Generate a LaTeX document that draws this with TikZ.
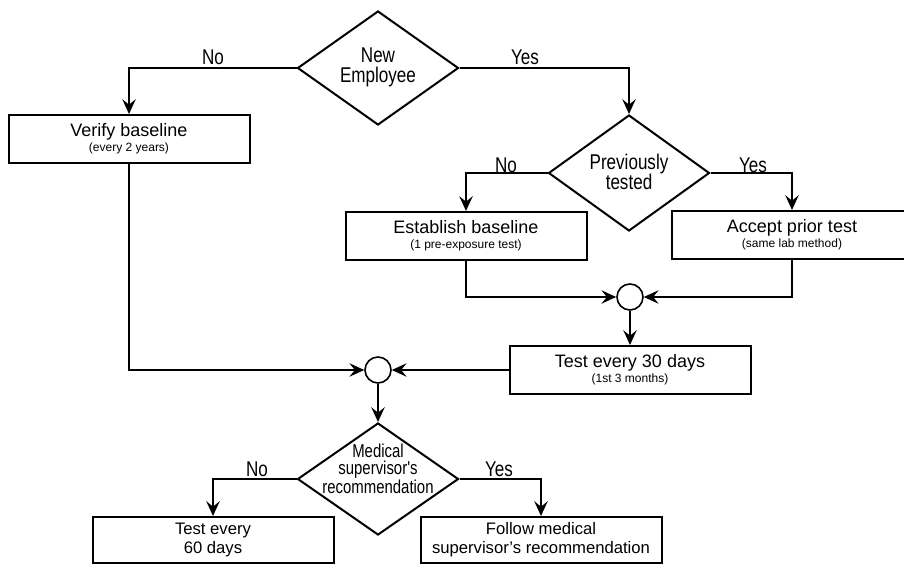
\documentclass[tikz,border=0pt]{standalone}
\usepackage{fontspec}
\setmainfont{Liberation Sans}
\newfontfamily\narrowfont[FakeStretch=0.8]{Liberation Sans}
\usetikzlibrary{shapes.geometric,arrows.meta}
\newcommand\boxsub{\fontsize{9pt}{11.5pt}\selectfont}
\tikzset{
  procbox/.style={draw, line width=1.5pt, minimum width=180.75pt, minimum height=36pt,
    inner sep=0pt, align=center, font=\fontsize{13.5pt}{11.5pt}\selectfont},
  lowbox/.style={procbox, minimum height=34.5pt, font=\fontsize{12.5pt}{14.5pt}\selectfont},
  decision/.style={draw, diamond, line width=1.5pt, minimum width=120.75pt,
    minimum height=85.5pt, inner sep=0pt},
  dtext/.style={align=center, inner sep=0pt, font=\narrowfont\fontsize{16pt}{15pt}\selectfont},
  joinc/.style={draw, circle, line width=1.2pt, minimum size=19.5pt, inner sep=0pt},
  lbl/.style={anchor=base, inner sep=0pt, font=\narrowfont\fontsize{16pt}{16pt}\selectfont},
  conn/.style={line width=1.5pt, -{Stealth[length=11pt,width=10pt,inset=4pt]}},
}
\begin{document}
\begin{tikzpicture}[x=0.75pt,y=-0.75pt]
\useasboundingbox (0,0) rectangle (904,565);
% decisions
\node[decision] (ne) at (378,68) {};
\node[dtext] (netxt) at (378,67) {New\\Employee};
\node[decision, minimum height=87pt] (pt) at (629,173) {};
\node[dtext] (pttxt) at (629,172) {Previously\\tested};
\node[decision, minimum height=84pt] (med) at (378,479) {};
\node[dtext, font=\narrowfont\fontsize{14pt}{12.75pt}\selectfont] (medtxt) at (378,469) {Medical\\supervisor's\\recommendation};
% boxes
\node[procbox] (verify) at (129,139) {Verify baseline\\{\boxsub (every 2 years)}};
\node[procbox] (est) at (466,236) {Establish baseline\\{\boxsub (1 pre-exposure test)}};
\node[procbox] (acc) at (792,235) {Accept prior test\\{\boxsub (same lab method)}};
\node[procbox] (t30) at (630,370) {Test every 30 days\\{\boxsub (1st 3 months)}};
\node[lowbox] (t60) at (213,540) {Test every\\60 days};
\node[lowbox] (fol) at (541,540) {Follow medical\\supervisor's recommendation};
% joins
\node[joinc] (c1) at (630,297) {};
\node[joinc] (c2) at (378,370) {};
% connectors
\draw[conn] (ne.west) -| (verify.north);
\draw[conn] (ne.east) -| (pt.north);
\draw[conn] (pt.west) -| (est.north);
\draw[conn] (pt.east) -| (acc.north);
\draw[conn] (est.south) |- (c1.west);
\draw[conn] (acc.south) |- (c1.east);
\draw[conn] (c1.south) -- (t30.north);
\draw[conn] (verify.south) |- (c2.west);
\draw[conn] (t30.west) -- (c2.east);
\draw[conn] (c2.south) -- (med.north);
\draw[conn] (med.west) -| (t60.north);
\draw[conn] (med.east) -| (fol.north);
% labels
\node[lbl] (l1) at (213,64) {No};
\node[lbl] (l2) at (525,64) {Yes};
\node[lbl] (l3) at (506,172) {No};
\node[lbl] (l4) at (753,172) {Yes};
\node[lbl] (l5) at (257,476) {No};
\node[lbl] (l6) at (499,476) {Yes};
\end{tikzpicture}
\end{document}
